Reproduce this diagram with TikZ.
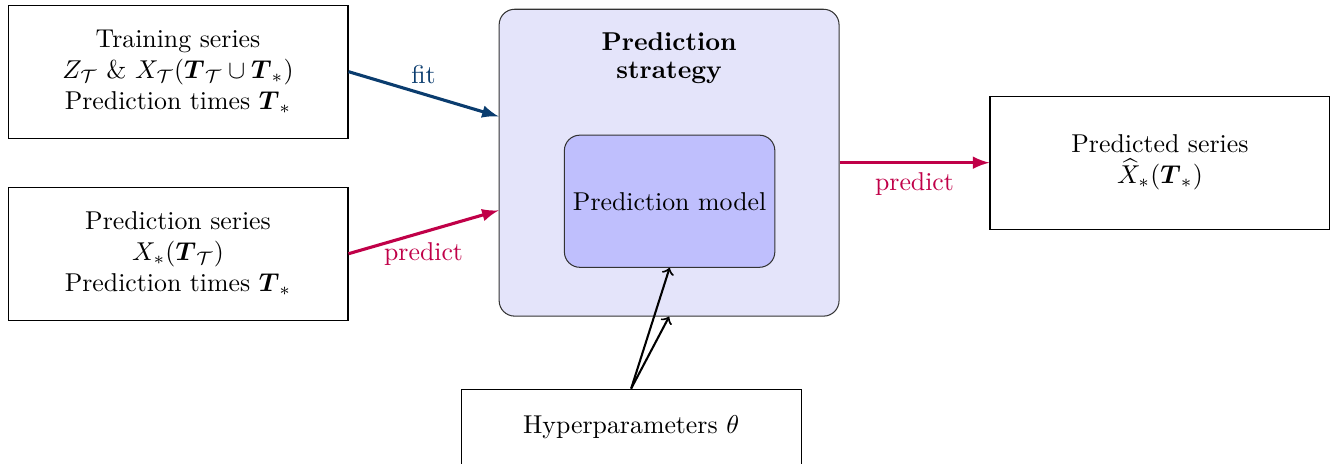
\documentclass[tikz,border=0pt]{standalone}
\usepackage{amsmath,amssymb}
\usepackage{tikz}
\usetikzlibrary{positioning, arrows}

\definecolor{fitblue}{RGB}{10,60,110}
\definecolor{predred}{RGB}{192,0,72}
\definecolor{stratfill}{RGB}{228,228,250}
\definecolor{modelfill}{RGB}{191,191,253}

\tikzset{
  series/.style={draw, thin, minimum width=4.63cm, minimum height=1.81cm, align=center},
  strat/.style={draw=black!80, fill=stratfill, rounded corners=6pt, minimum width=4.63cm, minimum height=4.18cm},
  model/.style={draw=black!80, fill=modelfill, rounded corners=6pt, minimum width=2.82cm, minimum height=1.80cm},
  flow/.style={very thick, >=latex}
}

\begin{document}
\begin{tikzpicture}[->, >=to]
    \useasboundingbox (0,0) rectangle (18.28,6.31);
    \node[series] (train) at (2.425,5.334) {Training series\\ $Z_{\mathcal{T}}$ \& $X_{\mathcal{T}}(\boldsymbol{T}_{\mathcal{T}}\cup\boldsymbol{T}_*)$\\ Prediction times $\boldsymbol{T}_*$};
    \node[series] (predser) at (2.425,2.854) {Prediction series\\ $X_*(\boldsymbol{T}_{\mathcal{T}})$\\ Prediction times $\boldsymbol{T}_*$};
    \node[strat] (strategy) at (9.114,4.094) {};
    \node[below=0.2cm of strategy.north, align=center, font=\bfseries] (title) {Prediction\\[-1pt] strategy};
    \node[model] (model) at (9.121,3.569) {Prediction model};
    \node[series] (predicted) at (15.80,4.094) {Predicted series\\ $\widehat{X}_*(\boldsymbol{T}_*)$};
    \node[series, minimum height=1.04cm] (hyper) at (8.597,0.49) {Hyperparameters $\theta$};

    \draw[flow, fitblue] (train.east) -- node[above]{fit} ([yshift=0.63cm]strategy.west);
    \draw[flow, predred] (predser.east) -- node[below]{predict} ([yshift=-0.65cm]strategy.west);
    \draw[flow, predred] (strategy.east) -- node[below]{predict} (predicted.west);
    \draw[thick] (hyper.north) -- (model.south);
    \draw[thick] (hyper.north) -- (strategy.south);
\end{tikzpicture}
\end{document}
